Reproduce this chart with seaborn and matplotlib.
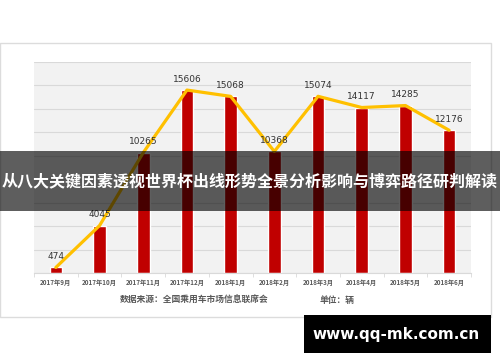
import matplotlib
matplotlib.use("Agg")
import matplotlib.pyplot as plt
from matplotlib.patches import Rectangle
import seaborn as sns
import pandas as pd
import numpy as np

months = ["2017年9月", "2017年10月", "2017年11月", "2017年12月", "2018年1月",
          "2018年2月", "2018年3月", "2018年4月", "2018年5月", "2018年6月"]
sales = [474, 4045, 10265, 15606, 15068, 10368, 15074, 14117, 14285, 12176]
source_text = "数据来源：全国乘用车市场信息联席会"
unit_text = "单位：辆"
banner_text = "从八大关键因素透视世界杯出线形势全景分析影响与博弈路径研判解读"
watermark_text = "www.qq-mk.com.cn"

sns.set_theme(style="white")
plt.rcParams['font.family'] = ['Noto Sans CJK SC', 'DejaVu Sans']

df = pd.DataFrame({"month": months, "sales": sales})

fig = plt.figure(figsize=(5, 3.62), dpi=100)
fig.patch.set_facecolor("white")

# card frame
card = Rectangle((0.0, 1 - 317 / 362), 491 / 500, (317 - 43) / 362,
                 transform=fig.transFigure, facecolor="white",
                 edgecolor="#dcdcdc", linewidth=1.0, zorder=-1)
fig.patches.append(card)

ax = fig.add_axes([34 / 500, 1 - 273 / 362, (471 - 34) / 500, (273 - 62) / 362])
ax.set_facecolor("#f2f2f2")

sns.barplot(data=df, x="month", y="sales", color="#c00000", width=0.29,
            saturation=1, ax=ax, zorder=2)
sns.lineplot(x=months, y=sales, sort=False, color="#ffc000", linewidth=2.3,
             ax=ax, zorder=3)

for i, v in enumerate(sales):
    ax.annotate(str(v), (i, v), xytext=(0, 4.5), textcoords="offset points",
                ha="center", va="bottom", fontsize=6.5, color="#333333",
                family="DejaVu Sans", zorder=4)

ax.set_ylim(0, 18000)
ax.set_xlim(-0.5, 9.5)
ax.set_yticks(range(0, 18001, 2000))
ax.set_yticklabels([])
ax.set_xticks(np.arange(-0.5, len(months)), minor=True)
ax.grid(axis="y", color="#d9d9d9", linewidth=0.8, zorder=0)
ax.set_axisbelow(True)
ax.set_xlabel("")
ax.set_ylabel("")
ax.tick_params(axis="y", length=0)
ax.tick_params(axis="x", which="major", length=0, labelsize=4.5,
               labelcolor="#595959", pad=4)
ax.tick_params(axis="x", which="minor", bottom=True, length=3, width=0.6,
               color="#d9d9d9")
for lab in ax.get_xticklabels():
    lab.set_fontweight("bold")
for s in ["left", "right", "top"]:
    ax.spines[s].set_visible(False)
ax.spines["bottom"].set_color("#d9d9d9")
ax.spines["bottom"].set_linewidth(0.8)

fig.text(194 / 500, 1 - 300 / 362, source_text, ha="center", va="center",
         fontsize=6.3, color="#595959", fontweight="bold")
fig.text(337 / 500, 1 - 300 / 362, unit_text, ha="center", va="center",
         fontsize=6.3, color="#595959", fontweight="bold")

# banner overlay
banner = Rectangle((0, 1 - 211 / 362), 1, 60 / 362, transform=fig.transFigure,
                   facecolor="black", alpha=0.63, edgecolor="none", zorder=5)
fig.patches.append(banner)
fig.text(0.5, 1 - 181 / 362, banner_text, ha="center", va="center",
         fontsize=11.5, color="white", fontweight="bold", zorder=6)

# watermark
wm = Rectangle((304 / 500, 1 - 353 / 362), 187 / 500, 38 / 362,
               transform=fig.transFigure, facecolor="black",
               edgecolor="none", zorder=5)
fig.patches.append(wm)
fig.text(396.5 / 500, 1 - 334 / 362, watermark_text, ha="center", va="center",
         fontsize=11, color="white", fontweight="bold", family="DejaVu Sans",
         zorder=6)

fig.savefig("out.png", dpi=100)
